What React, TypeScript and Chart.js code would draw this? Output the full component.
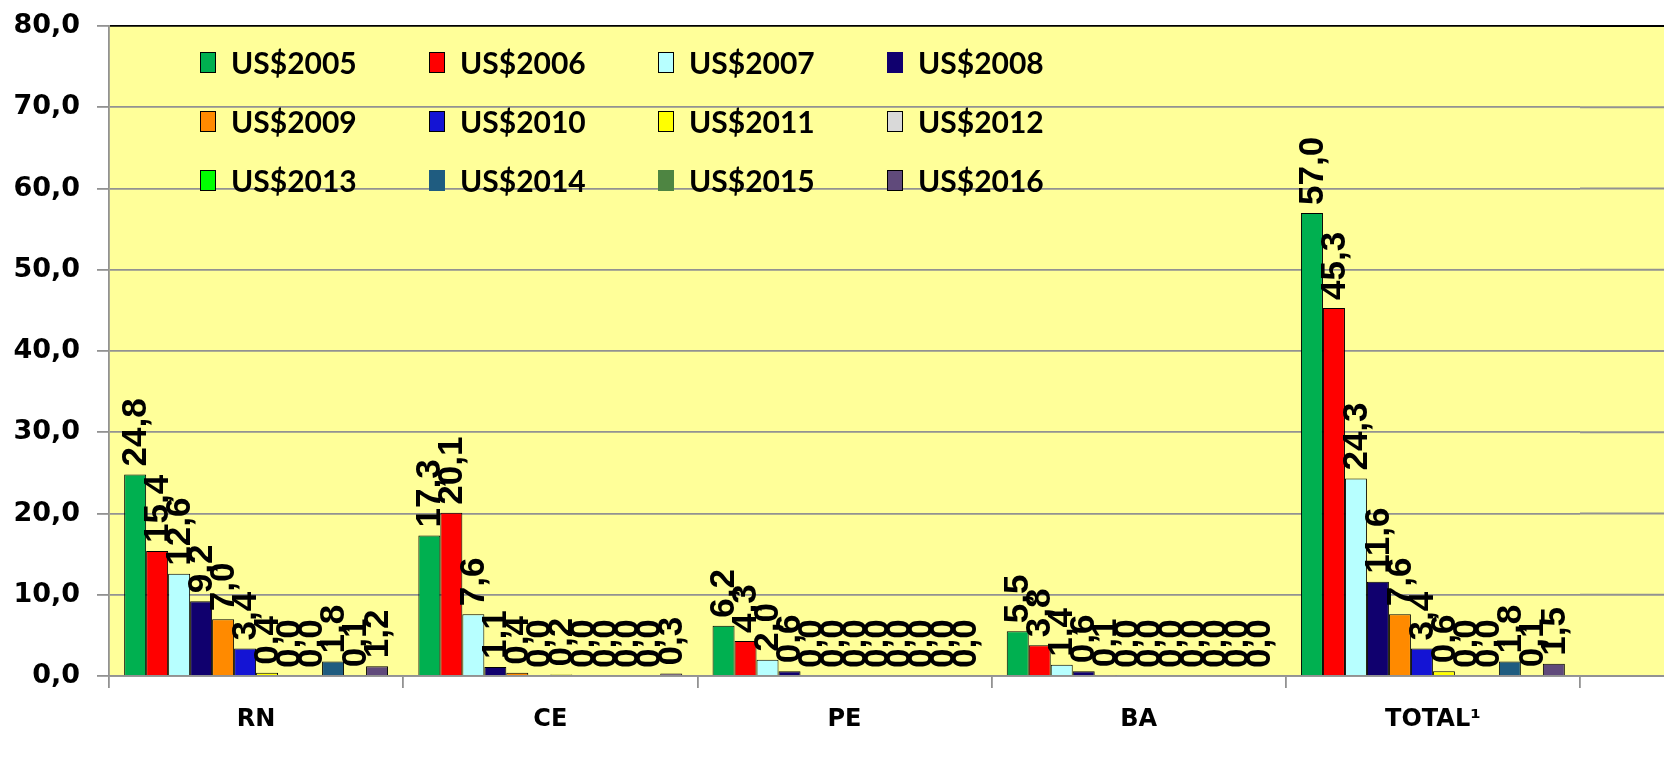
import React, { useEffect, useRef } from "react";
import { Chart, registerables } from "chart.js";

Chart.register(...registerables);

const categories = ["RN", "CE", "PE", "BA", "TOTAL¹"];
const seriesNames = [
  "US$2005", "US$2006", "US$2007", "US$2008",
  "US$2009", "US$2010", "US$2011", "US$2012",
  "US$2013", "US$2014", "US$2015", "US$2016",
];
const seriesColors = [
  "#00B050", "#FF0000", "#B7FFFF", "#10006E",
  "#FF8A00", "#1414D4", "#FFFF00", "#D9D9D9",
  "#00FF00", "#1F5C80", "#4E8542", "#604A7B",
];
const legendBorders = [
  true, true, true, false,
  true, true, true, true,
  true, false, false, true,
];

const v2005 = [24.8, 17.3, 6.2, 5.5, 57.0];
const v2006 = [15.4, 20.1, 4.3, 3.8, 45.3];
const v2007 = [12.6, 7.6, 2.0, 1.4, 24.3];
const v2008 = [9.2, 1.1, 0.6, 0.6, 11.6];
const v2009 = [7.0, 0.4, 0.0, 0.1, 7.6];
const v2010 = [3.4, 0.0, 0.0, 0.0, 3.4];
const v2011 = [0.4, 0.2, 0.0, 0.0, 0.6];
const v2012 = [0.0, 0.0, 0.0, 0.0, 0.0];
const v2013 = [0.0, 0.0, 0.0, 0.0, 0.0];
const v2014 = [1.8, 0.0, 0.0, 0.0, 1.8];
const v2015 = [0.1, 0.0, 0.0, 0.0, 0.1];
const v2016 = [1.2, 0.3, 0.0, 0.0, 1.5];

const seriesValues = [
  v2005, v2006, v2007, v2008, v2009, v2010,
  v2011, v2012, v2013, v2014, v2015, v2016,
];

const yTicks = [0, 10, 20, 30, 40, 50, 60, 70, 80];

const fmt = (v: number) => v.toFixed(1).replace(".", ",");

const PLOT_BG = "#FFFF99";
const GRID = "#929292";

const bgPlugin = {
  id: "plotBg",
  beforeDraw(chart: any) {
    const { ctx, chartArea: a, width } = chart;
    const y = chart.scales.y;
    ctx.save();
    ctx.fillStyle = PLOT_BG;
    ctx.fillRect(a.left, a.top, width - a.left, a.bottom - a.top);
    ctx.lineWidth = 1.8;
    y.ticks.forEach((t: any) => {
      const py = y.getPixelForValue(t.value);
      ctx.strokeStyle = t.value === 80 ? "#000000" : GRID;
      ctx.beginPath();
      ctx.moveTo(a.right, py);
      ctx.lineTo(width, py);
      ctx.stroke();
    });
    ctx.restore();
  },
};

const labelPlugin = {
  id: "barLabels",
  afterDatasetsDraw(chart: any) {
    const ctx = chart.ctx;
    ctx.save();
    ctx.font = 'bold 35px "Liberation Sans", Arial, sans-serif';
    ctx.fillStyle = "#000000";
    chart.data.datasets.forEach((ds: any, i: number) => {
      const meta = chart.getDatasetMeta(i);
      meta.data.forEach((bar: any, j: number) => {
        const v = ds.data[j] as number;
        ctx.save();
        ctx.translate(bar.x + 1, bar.y - 8);
        ctx.rotate(-Math.PI / 2);
        ctx.textAlign = "left";
        ctx.textBaseline = "middle";
        ctx.fillText(fmt(v), 0, 0);
        ctx.restore();
      });
    });
    ctx.restore();
  },
};

export default function App() {
  const canvasRef = useRef<HTMLCanvasElement | null>(null);

  useEffect(() => {
    document.body.style.margin = "0";
    document.body.style.overflow = "hidden";
    const canvas = canvasRef.current;
    if (!canvas) return;
    const chart = new Chart(canvas, {
      type: "bar",
      data: {
        labels: categories,
        datasets: seriesNames.map((name, i) => ({
          label: name,
          data: seriesValues[i],
          backgroundColor: seriesColors[i],
          borderColor: "#000000",
          borderWidth: (c: any) => (c.raw === 0 ? 0 : 1),
          categoryPercentage: 0.897,
          barPercentage: 1.0,
        })),
      },
      options: {
        animation: false,
        responsive: false,
        layout: { padding: { top: 26, right: 84, left: 0, bottom: 0 } },
        plugins: {
          legend: { display: false },
          tooltip: { enabled: false },
        },
        scales: {
          x: {
            offset: true,
            grid: {
              drawOnChartArea: false,
              drawTicks: true,
              tickLength: 12,
              offset: true,
              color: GRID,
              lineWidth: 1.8,
            },
            border: { color: GRID, width: 1.8 },
            ticks: {
              color: "#000000",
              font: { family: "DejaVu Sans", weight: "bold", size: 24 },
              padding: 17,
              maxRotation: 0,
              minRotation: 0,
              autoSkip: false,
            },
            afterFit: (s: any) => {
              s.height = 103;
              s.paddingLeft = 0;
              s.paddingRight = 0;
            },
          },
          y: {
            min: 0,
            max: 80,
            afterBuildTicks: (s: any) => {
              s.ticks = yTicks.map((v) => ({ value: v }));
            },
            ticks: {
              color: "#000000",
              font: { family: "DejaVu Sans", weight: "bold", size: 27 },
              padding: 17,
              callback: (v: any) => fmt(Number(v)),
            },
            grid: {
              color: (c: any) => (c.tick && c.tick.value === 80 ? "#000000" : GRID),
              tickColor: GRID,
              lineWidth: 1.8,
              tickLength: 12,
              drawTicks: true,
            },
            border: { color: GRID, width: 1.8 },
            afterFit: (s: any) => {
              s.width = 109;
              s.paddingTop = 0;
              s.paddingBottom = 0;
            },
          },
        },
      },
      plugins: [bgPlugin, labelPlugin],
    });
    return () => chart.destroy();
  }, []);

  return (
    <div style={{ position: "relative", width: 1664, height: 779, background: "#FFFFFF", overflow: "hidden" }}>
      <canvas ref={canvasRef} width={1664} height={779} style={{ display: "block", width: 1664, height: 779 }} />
      <div
        style={{
          position: "absolute",
          left: 200,
          top: 47,
          display: "grid",
          gridTemplateColumns: "repeat(4, 229px)",
          gridAutoRows: "59px",
          fontFamily: "Lato, 'Open Sans', sans-serif",
          fontWeight: 700,
          fontSize: 30,
          color: "#000000",
          pointerEvents: "none",
        }}
      >
        {seriesNames.map((name, i) => (
          <div key={name} style={{ display: "flex", alignItems: "center", height: 30 }}>
            <span
              style={{
                display: "inline-block",
                width: 16,
                height: 21,
                boxSizing: "border-box",
                background: seriesColors[i],
                border: legendBorders[i] ? "1px solid #000" : "none",
                marginRight: 15,
              }}
            />
            <span style={{ lineHeight: "30px", whiteSpace: "nowrap" }}>{name}</span>
          </div>
        ))}
      </div>
    </div>
  );
}
